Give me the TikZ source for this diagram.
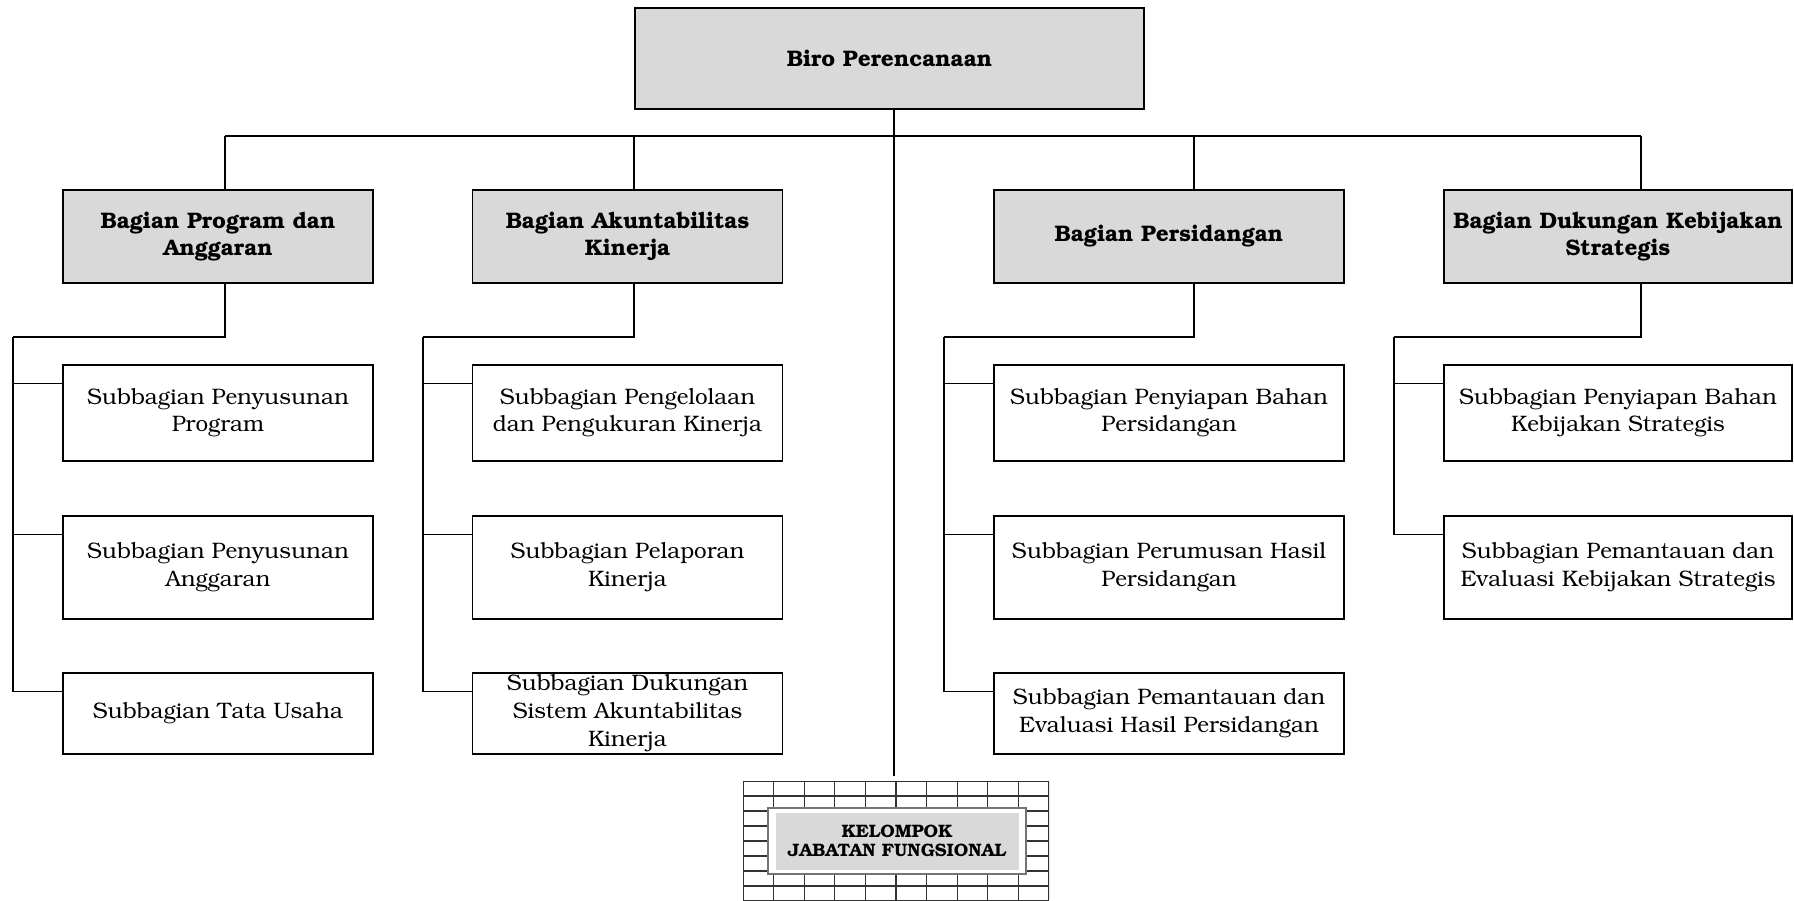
\documentclass[tikz,border=0pt]{standalone}
\usepackage[T1]{fontenc}
\usepackage{bookman}
\definecolor{boxgray}{HTML}{D9D9D9}
\tikzset{
  unit/.style={draw, line width=0.6pt, inner sep=0pt, align=center,
    font=\fontsize{11.2}{13.8}\selectfont},
  kepala/.style={unit, fill=boxgray, font=\fontsize{11.25}{13.6}\selectfont\bfseries},
  sub1/.style={unit, minimum height=48pt},
  sub2/.style={unit, minimum height=51.5pt},
  sub3/.style={unit, minimum height=40.5pt},
  garis/.style={line width=0.6pt},
  kisi/.style={line width=0.55pt, black!80},
}
\begin{document}
\begin{tikzpicture}[x=0.5pt, y=-0.5pt]
\useasboundingbox (0,0) rectangle (1794,900);
% kepala biro
\node[kepala, minimum width=254.5pt, minimum height=50.5pt] (biro) at (889.5,58.5) {Biro Perencanaan};
% bagian
\node[kepala, minimum width=155pt, minimum height=46.5pt] (bpa) at (218,236.5) {Bagian Program dan\\Anggaran};
\node[kepala, minimum width=155pt, minimum height=46.5pt] (bak) at (627.5,236.5) {Bagian Akuntabilitas\\Kinerja};
\node[kepala, minimum width=175pt, minimum height=46.5pt] (bps) at (1169,236.5) {Bagian Persidangan};
\node[kepala, minimum width=174pt, minimum height=46.5pt] (bdk) at (1618,236.5) {Bagian Dukungan Kebijakan\\Strategis};
% subbagian
\node[sub1, minimum width=155pt] (bpa1) at (218,413) {Subbagian Penyusunan\\Program};
\node[sub2, minimum width=155pt] (bpa2) at (218,567.5) {Subbagian Penyusunan\\Anggaran};
\node[sub3, minimum width=155pt] (bpa3) at (218,713.5) {Subbagian Tata Usaha};
\node[sub1, minimum width=155pt] (bak1) at (627.5,413) {Subbagian Pengelolaan\\dan Pengukuran Kinerja};
\node[sub2, minimum width=155pt] (bak2) at (627.5,567.5) {Subbagian Pelaporan\\Kinerja};
\node[sub3, minimum width=155pt] (bak3) at (627.5,713.5) {Subbagian Dukungan\\Sistem Akuntabilitas\\Kinerja};
\node[sub1, minimum width=175pt] (bps1) at (1169,413) {Subbagian Penyiapan Bahan\\Persidangan};
\node[sub2, minimum width=175pt] (bps2) at (1169,567.5) {Subbagian Perumusan Hasil\\Persidangan};
\node[sub3, minimum width=175pt] (bps3) at (1169,713.5) {Subbagian Pemantauan dan\\Evaluasi Hasil Persidangan};
\node[sub1, minimum width=174pt] (bdk1) at (1618,413) {Subbagian Penyiapan Bahan\\Kebijakan Strategis};
\node[sub2, minimum width=174pt] (bdk2) at (1618,567.5) {Subbagian Pemantauan dan\\Evaluasi Kebijakan Strategis};
% kelompok jabatan fungsional
\begin{scope}
  \clip (743,781) rectangle (1049,900);
  \foreach \i in {0,...,10}
    \draw[kisi] (743+\i*30.6,781) -- (743+\i*30.6,900);
  \foreach \j in {0,...,8}
    \draw[kisi] (743,781+\j*15) -- (1049,781+\j*15);
\end{scope}
\node[draw=black!55, line width=0.8pt, fill=white, minimum width=129pt, minimum height=33pt] (kf) at (897,841) {};
\node[fill=boxgray, minimum width=121.5pt, minimum height=28.5pt, inner sep=0pt, align=center,
  font=\fontsize{9}{9.4}\selectfont\bfseries] (kjf) at (kf.center) {KELOMPOK\\JABATAN FUNGSIONAL};
% garis
\coordinate (pusat) at (894,136);
\coordinate (ujung) at (894,776);
\coordinate (c1) at (225,136);
\coordinate (c2) at (634,136);
\coordinate (c3) at (1194,136);
\coordinate (c4) at (1641,136);
\coordinate (l1) at (13,337);
\coordinate (l2) at (423,337);
\coordinate (l3) at (944,337);
\coordinate (l4) at (1394,337);
\draw[garis] (biro.south -| pusat) -- (ujung);
\draw[garis] (c1) -- (c4);
\foreach \c/\b/\l in {c1/bpa/l1, c2/bak/l2, c3/bps/l3, c4/bdk/l4} {
  \draw[garis] (\c) -- (\c |- \b.north);
  \draw[garis] (\c |- \b.south) |- (\l);
}
\foreach \l/\s in {l1/bpa1, l1/bpa2, l1/bpa3, l2/bak1, l2/bak2, l2/bak3,
    l3/bps1, l3/bps2, l3/bps3, l4/bdk1, l4/bdk2}
  \draw[garis] (\l) |- ([yshift=-9.5pt]\s.north west);
\end{tikzpicture}
\end{document}
